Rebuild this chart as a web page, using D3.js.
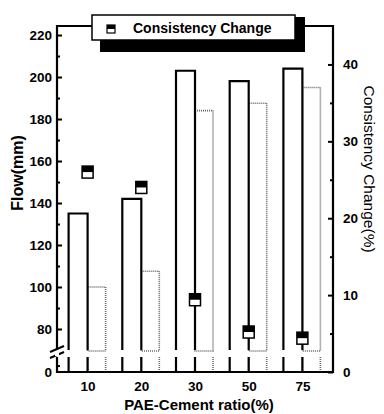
<!DOCTYPE html>
<html><head><meta charset="utf-8">
<script src="https://cdn.jsdelivr.net/npm/d3@7"></script>
<style>body{margin:0;background:#fff}svg{display:block}text{font-family:"Liberation Sans",Arial,sans-serif}</style>
</head><body><svg id="c" width="384" height="414"></svg>
<script>
const categories = ["10", "20", "30", "50", "75"];
const flowInitial = [135, 142, 203, 198, 204];
const flowLater = [100, 107.5, 184, 187.5, 195];
const consistencyChange = [26.0, 24.0, 9.4, 5.2, 4.4];
const leftTicks = [80, 100, 120, 140, 160, 180, 200, 220];
const leftMinor = [90, 110, 130, 150, 170, 190, 210];
const rightTicks = [0, 10, 20, 30, 40];
const rightMinor = [5, 15, 25, 35];
const legendLabel = "Consistency Change";

const L = 57, R = 333, T = 26, B = 372;
const svg = d3.select("#c");
const x = d3.scalePoint().domain(categories).range([L, R]).padding(0.57);
const yUp = d3.scaleLinear().domain([70, 224.3]).range([350, T]);
const yLow = d3.scaleLinear().domain([0, 7]).range([B, 357]);
const yR = d3.scaleLinear().domain([0, 45]).range([B, T]);
const bw = 19;

const g = svg.append("g");
categories.forEach((c, i) => {
  const cx = x(c);
  g.append("rect").attr("x", cx).attr("y", yUp(flowLater[i])).attr("width", bw - 1)
    .attr("height", yUp(70) + 1 - yUp(flowLater[i]))
    .attr("fill", "#fff").attr("stroke", "#666").attr("stroke-width", 1.6).attr("stroke-dasharray", "1,1");
  g.append("path").attr("d", `M${cx},${B}V${yLow(7)}M${cx + bw - 1},${B}V${yLow(7)}`)
    .attr("fill", "none").attr("stroke", "#666").attr("stroke-width", 1.6).attr("stroke-dasharray", "1,1");
  g.append("path").attr("d", `M${cx - bw},${yUp(70)}V${yUp(flowInitial[i])}H${cx}V${yUp(70)}`)
    .attr("fill", "#fff").attr("stroke", "#000").attr("stroke-width", 2.2);
  g.append("path").attr("d", `M${cx - bw},${B}V${yLow(7)}M${cx},${B}V${yLow(7)}`)
    .attr("fill", "none").attr("stroke", "#000").attr("stroke-width", 2.2);
});

const mw = 11, mh = 12;
categories.forEach((c, i) => {
  const cx = x(c), cy = yR(consistencyChange[i]);
  g.append("rect").attr("x", cx - mw / 2).attr("y", cy - mh / 2).attr("width", mw).attr("height", mh)
    .attr("fill", "#fff").attr("stroke", "#000").attr("stroke-width", 1.5);
  g.append("rect").attr("x", cx - mw / 2).attr("y", cy - mh / 2).attr("width", mw).attr("height", mh / 2)
    .attr("fill", "#000");
});

svg.append("path").attr("d", `M${L},${350}V${T}H${R}V${B}H${L}V${357}`)
  .attr("fill", "none").attr("stroke", "#000").attr("stroke-width", 2.2);

const font = "13.5px";
const axL = svg.append("g").attr("transform", `translate(${L},0)`)
  .call(d3.axisLeft(yUp).tickValues(leftTicks).tickSize(-5).tickPadding(5));
const axLm = svg.append("g").attr("transform", `translate(${L},0)`)
  .call(d3.axisLeft(yUp).tickValues(leftMinor).tickSize(-3).tickFormat(""));
const axL0 = svg.append("g").attr("transform", `translate(${L},0)`)
  .call(d3.axisLeft(yLow).tickValues([0]).tickFormat(d3.format("d")).tickSize(0).tickPadding(5));
const axLl = svg.append("g").attr("transform", `translate(${L},0)`)
  .call(d3.axisLeft(yLow).tickValues([3]).tickSize(-3).tickFormat(""));
const axR = svg.append("g").attr("transform", `translate(${R},0)`)
  .call(d3.axisRight(yR).tickValues(rightTicks).tickSize(-5).tickPadding(10));
const axRm = svg.append("g").attr("transform", `translate(${R},0)`)
  .call(d3.axisRight(yR).tickValues(rightMinor).tickSize(-3).tickFormat(""));
const axB = svg.append("g").attr("transform", `translate(0,${B})`)
  .call(d3.axisBottom(x).tickSize(0).tickPadding(9));
[axL, axLm, axL0, axLl, axR, axRm, axB].forEach(a => {
  a.select(".domain").remove();
  a.selectAll(".tick line").attr("stroke", "#000").attr("stroke-width", 2);
  a.selectAll("text").attr("font-size", font).attr("font-weight", "bold").attr("fill", "#000")
    .attr("font-family", "'Liberation Sans',Arial,sans-serif");
});

svg.append("path").attr("d", `M${L - 7},${352}L${L + 7},${346}M${L - 7},${358}L${L + 7},${352}`)
  .attr("stroke", "#000").attr("stroke-width", 2).attr("fill", "none");
svg.append("rect").attr("x", L - 2).attr("y", 351).attr("width", 4).attr("height", 5).attr("fill", "#fff");

svg.append("text").attr("transform", `translate(23,${173}) rotate(-90)`).attr("text-anchor", "middle")
  .attr("font-size", "16px").attr("font-weight", "bold").text("Flow(mm)");
svg.append("text").attr("transform", `translate(364,${169}) rotate(90)`).attr("text-anchor", "middle")
  .attr("font-size", "15.5px").text("Consistency Change(%)");
svg.append("text").attr("x", 199).attr("y", 410).attr("text-anchor", "middle")
  .attr("font-size", "15px").attr("font-weight", "bold").text("PAE-Cement ratio(%)");

const lg = svg.append("g");
lg.append("rect").attr("x", 100).attr("y", 17).attr("width", 205).attr("height", 35).attr("fill", "#000");
lg.append("rect").attr("x", 92).attr("y", 15).attr("width", 203).attr("height", 25)
  .attr("fill", "#fff").attr("stroke", "#000").attr("stroke-width", 1.5);
lg.append("rect").attr("x", 107).attr("y", 25).attr("width", 8).attr("height", 8)
  .attr("fill", "#fff").attr("stroke", "#000").attr("stroke-width", 1.2);
lg.append("rect").attr("x", 107).attr("y", 25).attr("width", 8).attr("height", 4).attr("fill", "#000");
lg.append("text").attr("x", 133).attr("y", 33).attr("font-size", "14px").attr("font-weight", "bold")
  .text(legendLabel);
</script></body></html>
